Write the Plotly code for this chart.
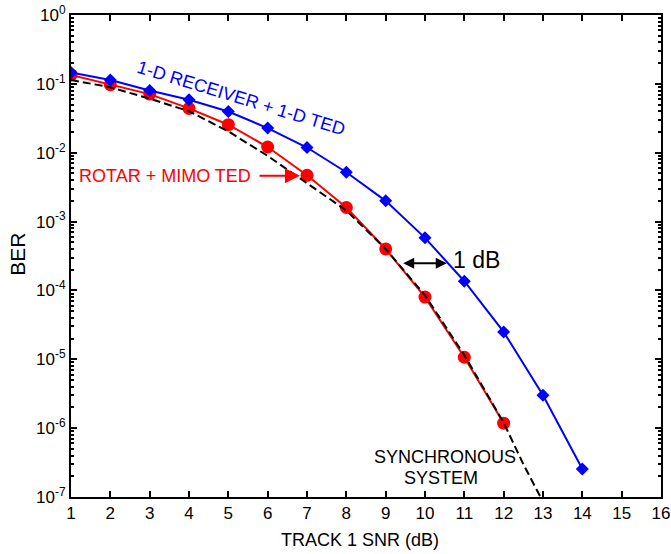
import numpy as np
import plotly.graph_objects as go

# ---- data ----
snr_blue = [1, 2, 3, 4, 5, 6, 7, 8, 9, 10, 11, 12, 13, 14]
ber_blue = [0.146, 0.114, 0.080, 0.0586, 0.0397, 0.0228, 0.0119, 0.0052,
            0.0020, 5.8e-4, 1.36e-4, 2.5e-5, 3.0e-6, 2.55e-7]

snr_red = [1, 2, 3, 4, 5, 6, 7, 8, 9, 10, 11, 12]
ber_red = [0.135, 0.097, 0.071, 0.044, 0.0255, 0.0121, 0.0047, 0.0016,
           4.0e-4, 8.0e-5, 1.07e-5, 1.18e-6]

snr_sync = [1, 2, 3, 4, 5, 6, 7, 8, 9, 10, 11, 12, 12.5, 13]
ber_sync = [0.114, 0.089, 0.061, 0.040, 0.0204, 0.0090, 0.0036, 0.00145,
            4.0e-4, 8.5e-5, 1.15e-5, 1.2e-6, 3.0e-7, 8.5e-8]

x_ticks = list(range(1, 17))
y_tickvals = [1e0, 1e-1, 1e-2, 1e-3, 1e-4, 1e-5, 1e-6, 1e-7]
y_ticktext = ["10<sup>0</sup>", "10<sup>-1</sup>", "10<sup>-2</sup>", "10<sup>-3</sup>",
              "10<sup>-4</sup>", "10<sup>-5</sup>", "10<sup>-6</sup>", "10<sup>-7</sup>"]

FONT = "Arial, Liberation Sans, sans-serif"
L = np.log10

fig = go.Figure()
fig.add_trace(go.Scatter(x=snr_red, y=ber_red, mode="lines+markers",
                         line=dict(color="#ff0000", width=2),
                         marker=dict(symbol="circle", size=13, color="#ff0000"),
                         showlegend=False))
fig.add_trace(go.Scatter(x=snr_sync, y=ber_sync, mode="lines",
                         line=dict(color="black", width=2, dash="8px,4px"),
                         showlegend=False))
fig.add_trace(go.Scatter(x=snr_blue, y=ber_blue, mode="lines+markers",
                         line=dict(color="#0000ff", width=2),
                         marker=dict(symbol="diamond", size=10, color="#0000ff"),
                         showlegend=False))

ann = []
ann.append(dict(x=5.31, y=L(0.0613), text="1-D RECEIVER + 1-D TED", showarrow=False,
                textangle=17, font=dict(family=FONT, size=18, color="#0000ff")))
ann.append(dict(x=5.635, y=L(4.63e-3), text="ROTAR + MIMO TED", showarrow=False,
                xanchor="right", font=dict(family=FONT, size=18, color="#ff0000")))
# red arrow pointing to the x=7 circle
ann.append(dict(x=6.82, y=L(4.63e-3), ax=5.755, ay=L(4.63e-3), axref="x", ayref="y",
                xref="x", yref="y", text="", showarrow=True, arrowhead=2,
                arrowsize=1.5, arrowwidth=2, arrowcolor="#ff0000"))
# 1 dB double arrow
ann.append(dict(x=10.553, y=L(2.48e-4), ax=9.408, ay=L(2.48e-4), axref="x", ayref="y",
                xref="x", yref="y", text="", showarrow=True, arrowhead=2,
                arrowside="end+start", arrowsize=1.1, arrowwidth=2, arrowcolor="black"))
ann.append(dict(x=11.30, y=L(2.78e-4), text="1 dB", showarrow=False,
                font=dict(family=FONT, size=23, color="black")))
ann.append(dict(x=10.496, y=L(3.85e-7), text="SYNCHRONOUS", showarrow=False,
                font=dict(family=FONT, size=18, color="black")))
ann.append(dict(x=10.41, y=L(1.87e-7), text="SYSTEM", showarrow=False,
                font=dict(family=FONT, size=18, color="black")))
# axis titles
ann.append(dict(x=0.49, y=-0.089, xref="paper", yref="paper", text="TRACK 1 SNR (dB)",
                xanchor="center", yanchor="middle",
                showarrow=False, font=dict(family=FONT, size=18, color="black")))
ann.append(dict(x=-0.092, y=0.504, xref="paper", yref="paper", text="BER",
                xanchor="center", yanchor="middle",
                textangle=-90, showarrow=False, font=dict(family=FONT, size=21, color="black")))

fig.update_layout(
    width=671, height=554,
    margin=dict(l=71, r=10, t=15, b=57, autoexpand=False),
    paper_bgcolor="white", plot_bgcolor="white",
    annotations=ann,
    font=dict(family=FONT, color="black"),
    xaxis=dict(range=[1, 16], tickmode="array", tickvals=x_ticks, automargin=False,
               ticks="inside", ticklen=6, tickwidth=1.5, tickcolor="black",
               showline=True, linecolor="black", linewidth=2, mirror="ticks",
               showgrid=False, zeroline=False,
               tickfont=dict(family=FONT, size=17, color="black")),
    yaxis=dict(type="log", range=[-7, 0], tickmode="array", tickvals=y_tickvals,
               ticktext=y_ticktext, automargin=False,
               ticks="inside", ticklen=6, tickwidth=1.5, tickcolor="black",
               showline=True, linecolor="black", linewidth=2, mirror="ticks",
               showgrid=False, zeroline=False,
               minor=dict(ticks="inside", ticklen=3, tickcolor="black", dtick="D1",
                          showgrid=False),
               tickfont=dict(family=FONT, size=17, color="black")),
)

# remove the default 8 px page margin so the figure fills the window exactly
fig.write_html("out.html", config={"displayModeBar": False},
               post_script="document.body.style.margin='0';document.body.style.overflow='hidden';")
